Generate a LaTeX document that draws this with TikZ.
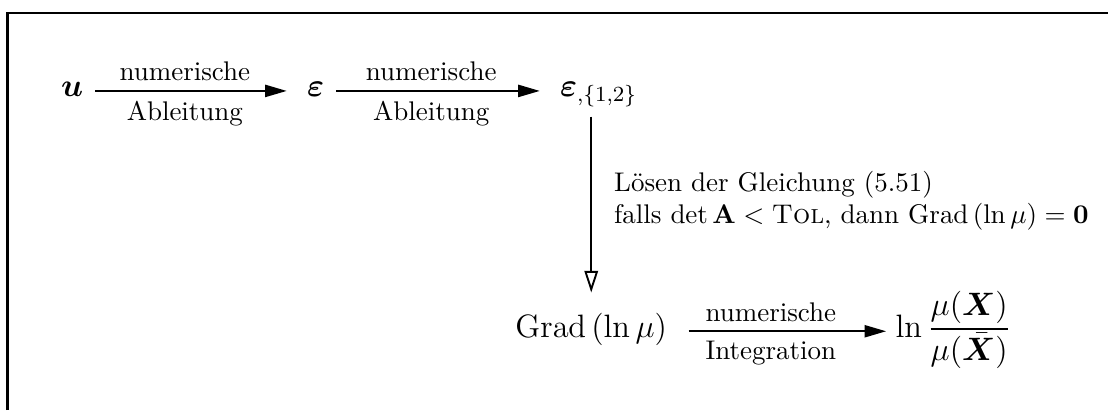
\documentclass[tikz,border=0pt]{standalone}
\usepackage{amsmath,bm}
\usetikzlibrary{arrows.meta,positioning}

\begin{document}
\begin{tikzpicture}[
      term/.style={font=\large, anchor=base},
      arr/.style={-{Triangle[length=8pt,width=4.5pt]}, line width=0.7pt, shorten <=1pt},
      openarr/.style={-{Triangle[open,length=8pt,width=5pt]}, line width=0.7pt, shorten >=4pt}]
    \useasboundingbox (0,0) rectangle (14.43,5.34);
    \draw[line width=0.9pt] (0.10,0) -- (0.10,5.17) -- (14.43,5.17);
    % first row
    \node[term] (u) at (0.94,4.08) {$\bm{u}$};
    \node[term] (eps) at (4.11,4.08) {$\bm{\varepsilon}$};
    \node[term, anchor=base west] (eps12) at (7.17,4.08) {$\bm{\varepsilon}_{,\{1,2\}}$};
    \draw[arr, shorten >=4pt] (u.mid east) -- node[pos=0.45, above] {numerische} node[pos=0.45, below] {Ableitung} (eps.mid west);
    \draw[arr, shorten >=4pt] (eps.mid east) -- node[pos=0.45, above] {numerische} node[pos=0.45, below] {Ableitung} (eps12.mid west);
    % second row
    \node[term] (grad) at (7.70,0.95) {$\mathrm{Grad}\,(\ln\mu)$};
    \node[term, anchor=base west] (ratio) at (11.54,0.95) {$\displaystyle\ln\frac{\mu(\bm{X})}{\mu(\bar{\bm{X}})}$};
    \draw[arr, shorten <=4.5pt] (grad.mid east) -- node[pos=0.45, above] {numerische} node[pos=0.45, below] {Integration} (ratio.mid west);
    % down
    \draw[openarr] (grad.north |- eps12.south) -- node[pos=0.45, right=4.8pt, align=left]
      {L\"osen der Gleichung (5.51)\\
       falls $\det\mathbf{A} < \textsc{Tol}$, dann $\mathrm{Grad}\,(\ln\mu) = \mathbf{0}$} (grad.north);
\end{tikzpicture}
\end{document}
